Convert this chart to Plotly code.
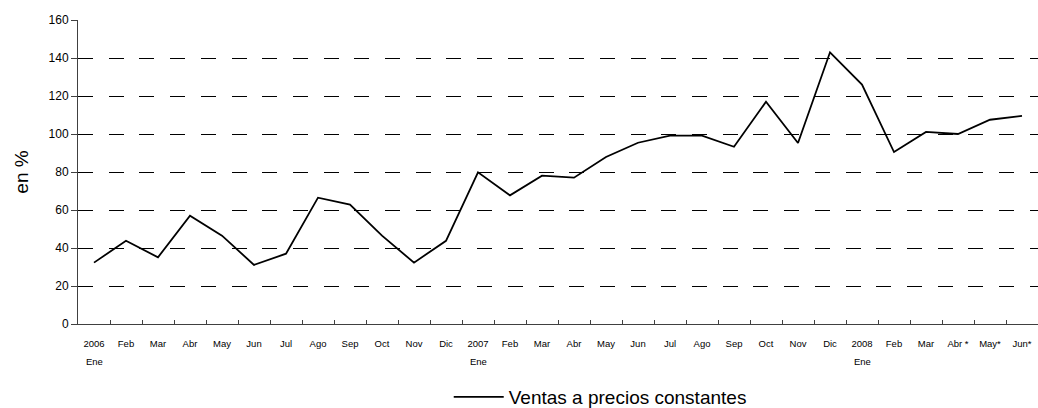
import plotly.graph_objects as go

categories = ["Ene 2006", "Feb 2006", "Mar 2006", "Abr 2006", "May 2006", "Jun 2006",
              "Jul 2006", "Ago 2006", "Sep 2006", "Oct 2006", "Nov 2006", "Dic 2006",
              "Ene 2007", "Feb 2007", "Mar 2007", "Abr 2007", "May 2007", "Jun 2007",
              "Jul 2007", "Ago 2007", "Sep 2007", "Oct 2007", "Nov 2007", "Dic 2007",
              "Ene 2008", "Feb 2008", "Mar 2008", "Abr 2008", "May 2008", "Jun 2008"]
tick_labels = ["2006", "Feb", "Mar", "Abr", "May", "Jun", "Jul", "Ago", "Sep", "Oct", "Nov", "Dic",
               "2007", "Feb", "Mar", "Abr", "May", "Jun", "Jul", "Ago", "Sep", "Oct", "Nov", "Dic",
               "2008", "Feb", "Mar", "Abr *", "May*", "Jun*"]
year_start_labels = {"Ene 2006": "Ene", "Ene 2007": "Ene", "Ene 2008": "Ene"}
ventas = [32.3, 43.8, 35.1, 57.0, 46.5, 31.1, 37.0, 66.5, 62.8, 46.5, 32.3, 43.8,
          79.8, 67.7, 78.1, 77.0, 87.9, 95.4, 99.1, 99.1, 93.3, 117.0, 95.3, 143.0,
          126.0, 90.5, 101.1, 100.0, 107.5, 109.5]
y_ticks = [0, 20, 40, 60, 80, 100, 120, 140, 160]
series_name = "Ventas a precios constantes"

FONT = "Liberation Sans, Arial, sans-serif"

fig = go.Figure()
fig.add_trace(go.Scatter(
    x=categories, y=ventas, mode="lines", name=series_name,
    line=dict(color="black", width=1.8), showlegend=True,
))

for cat, lab in year_start_labels.items():
    fig.add_annotation(x=cat, xref="x", y=-0.122, yref="paper", text=lab,
                       showarrow=False, yanchor="middle", xanchor="center",
                       font=dict(family=FONT, size=9.5, color="black"))

fig.update_layout(
    width=1038, height=408,
    margin=dict(l=78, r=0, t=20, b=84),
    paper_bgcolor="white", plot_bgcolor="white",
    font=dict(family=FONT, color="black"),
    showlegend=True,
    legend=dict(orientation="h", xref="container", yref="container",
                x=0.4323, y=0.027, xanchor="left", yanchor="middle",
                itemwidth=50,
                font=dict(family=FONT, size=19, color="black"),
                bgcolor="rgba(0,0,0,0)"),
    xaxis=dict(
        type="category", tickmode="array", tickvals=categories, ticktext=tick_labels,
        tickson="boundaries", ticks="inside", ticklen=4, tickcolor="#404040",
        showline=True, linecolor="#404040", linewidth=1,
        showgrid=False, tickangle=0, automargin=False, ticklabelstandoff=11,
        tickfont=dict(family=FONT, size=9.5, color="black"),
        range=[-0.5, len(categories) - 0.5],
    ),
    yaxis=dict(
        range=[0, 160], tickmode="array", tickvals=y_ticks,
        ticks="outside", ticklen=6, tickcolor="#404040",
        showline=True, linecolor="#404040", linewidth=1,
        showgrid=True, gridcolor="black", gridwidth=1, griddash="15px,15.7px",
        zeroline=False, automargin=False,
        tickfont=dict(family=FONT, size=12, color="black"),
        title=dict(text="en %", font=dict(family=FONT, size=19, color="black"), standoff=14),
    ),
)

fig.write_html("out.html",
               config={"displayModeBar": False},
               post_script="document.body.style.margin='0';document.body.style.overflow='hidden';")
